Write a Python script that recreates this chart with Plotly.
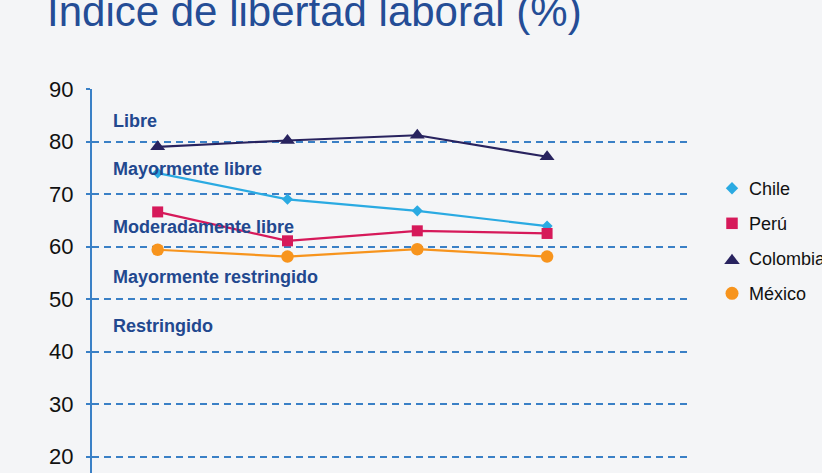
import plotly.graph_objects as go

# ---------------- data ----------------
periods = ["P1", "P2", "P3", "P4"]
chile = [74.0, 69.0, 66.8, 63.9]
peru = [66.6, 61.1, 63.0, 62.5]
colombia = [79.0, 80.2, 81.2, 77.1]
mexico = [59.4, 58.1, 59.5, 58.1]
series_names = ["Chile", "Perú", "Colombia", "México"]
band_labels = ["Libre", "Mayormente libre", "Moderadamente libre",
               "Mayormente restringido", "Restringido"]
band_centers = [84.0, 74.8, 63.7, 54.2, 44.9]
y_ticks = [20, 30, 40, 50, 60, 70, 80, 90]
title_text = "Índice de libertad laboral (%)"

# ---------------- style ----------------
BG = "#f4f5f7"
GRID = "#3a80c6"
NAVY_TXT = "#22488f"
FONT = "Arial, 'Liberation Sans', sans-serif"
colors = ["#2aaae2", "#d6195a", "#28235f", "#f7941d"]
symbols = ["diamond", "square", "triangle-up", "circle"]
sizes = [8.5, 11, 13, 12.5]
leg_sizes = [9.5, 11.5, 13.5, 13]

W, H = 822, 473
ML, MT = 92, 89
plot_w = W - ML
plot_h = H - MT

fig = go.Figure()
xs = list(range(len(periods)))
for name, vals, c, s, sz in zip(series_names, [chile, peru, colombia, mexico],
                                colors, symbols, sizes):
    fig.add_trace(go.Scatter(
        x=xs, y=vals, mode="lines+markers", name=name,
        line=dict(color=c, width=2.2),
        marker=dict(symbol=s, size=sz, color=c, line=dict(width=0)),
        showlegend=False, hoverinfo="skip", cliponaxis=False,
        text=periods,
    ))

# manual legend (overlay subplot covering the paper area)
leg_marker_y = [188.3, 223.3, 260.6, 293.3]
leg_text_y = [189.3, 224.0, 258.5, 294.3]
for i, (name, c, s, sz) in enumerate(zip(series_names, colors, symbols, leg_sizes)):
    fig.add_trace(go.Scatter(
        x=[(732 - ML) / plot_w], y=[(H - leg_marker_y[i]) / plot_h],
        mode="markers", marker=dict(symbol=s, size=sz, color=c, line=dict(width=0)),
        xaxis="x2", yaxis="y2", showlegend=False, hoverinfo="skip",
    ))
    fig.add_annotation(
        x=(747 - ML) / plot_w, y=(H - leg_text_y[i]) / plot_h,
        xref="paper", yref="paper", xanchor="left", yanchor="middle",
        text=name, showarrow=False,
        font=dict(family=FONT, size=18, color="#111111"),
    )

for lbl, yc in zip(band_labels, band_centers):
    fig.add_annotation(
        x=(111 - ML) / plot_w, y=yc, xref="paper", yref="y",
        xanchor="left", yanchor="middle", text="<b>%s</b>" % lbl,
        showarrow=False, font=dict(family=FONT, size=18, color=NAVY_TXT),
    )

fig.update_layout(
    width=W, height=H,
    margin=dict(l=ML, r=0, t=MT, b=0, pad=0),
    paper_bgcolor=BG, plot_bgcolor="rgba(0,0,0,0)",
    title=dict(text=title_text, x=47 / W, xanchor="left", xref="container",
               y=1 - 11.6 / H, yanchor="middle", yref="container",
               font=dict(family=FONT, size=42, color="#244d96")),
    xaxis=dict(domain=[0, (687 - ML) / plot_w], range=[-0.506, 4.078],
               showgrid=False, zeroline=False, showticklabels=False,
               showline=False, ticks=""),
    yaxis=dict(range=[16.9, 90], tickvals=y_ticks, showgrid=True,
               gridcolor=GRID, griddash="7px,5px", gridwidth=1.6,
               zeroline=False, showline=True, linecolor=GRID, linewidth=2,
               ticks="outside", ticklen=4, tickcolor=GRID, tickwidth=1.6,
               ticklabelstandoff=8,
               tickfont=dict(family=FONT, size=22, color="#111111")),
    xaxis2=dict(domain=[0, 1], range=[0, 1], anchor="y2", visible=False,
                fixedrange=True),
    yaxis2=dict(domain=[0, 1], range=[0, 1], anchor="x2", visible=False,
                fixedrange=True),
    showlegend=False,
)

fig.write_html("out.html", config=dict(displayModeBar=False),
               post_script="document.body.style.margin='0';"
                           "document.body.style.overflow='hidden';")
